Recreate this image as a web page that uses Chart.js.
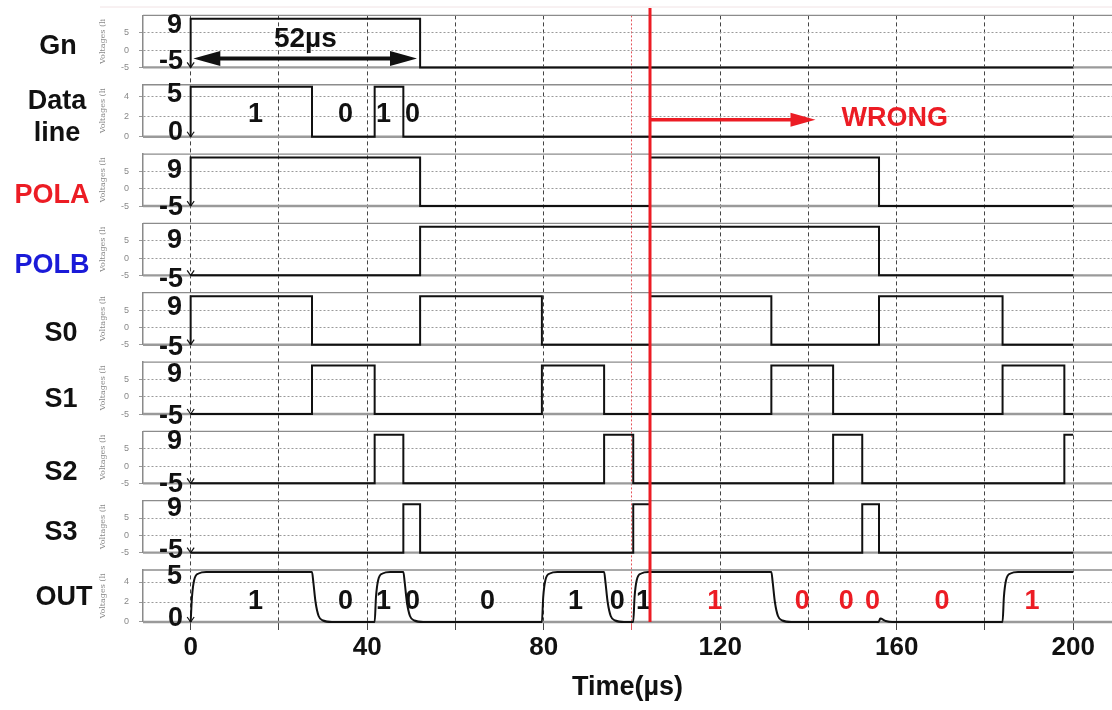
<!DOCTYPE html>
<html>
<head>
<meta charset="utf-8">
<script src="https://cdn.jsdelivr.net/npm/chart.js@4.4.1/dist/chart.umd.min.js"></script>
<style>
  html, body { margin: 0; padding: 0; background: #fff; }
  #wrap { width: 1112px; height: 710px; }
</style>
</head>
<body>
<div id="wrap"><canvas id="timing" width="1112" height="710"></canvas></div>
<script>
// timing diagram (µs, volts)
const xTicks = [0, 20, 40, 60, 80, 100, 120, 140, 160, 180, 200];
const xLabels = [0, 40, 80, 120, 160, 200];

const gnT = [0, 0, 52, 200];
const gnV = [-5, 9, -5, -5];
const dataT = [0, 0, 27.5, 41.7, 48.2, 200];
const dataV = [0, 5, 0, 5, 0, 0];
const polaT = [0, 0, 52, 104.1, 156, 200];
const polaV = [-5, 9, -5, 9, -5, -5];
const polbT = [0, 52, 156, 200];
const polbV = [-5, 9, -5, -5];
const s0T = [0, 0, 27.5, 52, 79.6, 104.1, 131.6, 156, 184, 200];
const s0V = [-5, 9, -5, 9, -5, 9, -5, 9, -5, -5];
const s1T = [0, 27.5, 41.7, 79.6, 93.7, 131.6, 145.6, 184, 198, 200];
const s1V = [-5, 9, -5, 9, -5, 9, -5, 9, -5, -5];
const s2T = [0, 41.7, 48.2, 93.7, 100.3, 145.6, 152.2, 198, 200];
const s2V = [-5, 9, -5, 9, -5, 9, -5, 9, 9];
const s3T = [0, 48.2, 52, 100.3, 104.1, 152.2, 156, 200];
const s3V = [-5, 9, -5, 9, -5, 9, -5, -5];

const outT = [0, 0.3, 0.8, 1.8, 3.5,
  27.5, 27.8, 28.3, 29.0, 30.0, 32.0,
  41.7, 42.0, 42.5, 43.5, 45.2,
  48.2, 48.5, 49.0, 49.7, 50.7, 52.7,
  79.6, 79.9, 80.4, 81.4, 83.1,
  93.7, 94.0, 94.5, 95.2, 96.2, 98.2,
  100.3, 100.6, 101.1, 102.1, 103.8,
  131.6, 131.9, 132.4, 133.1, 134.1, 136.1,
  155.9, 156.3, 157.5, 159.0,
  184.0, 184.3, 184.8, 185.8, 187.5, 200];
const outV = [0, 2.5, 4.2, 4.85, 5,
  5, 4.0, 2.0, 0.6, 0.15, 0,
  0, 2.5, 4.2, 4.85, 5,
  5, 4.0, 2.0, 0.6, 0.15, 0,
  0, 2.5, 4.2, 4.85, 5,
  5, 4.0, 2.0, 0.6, 0.15, 0,
  0, 2.5, 4.2, 4.85, 5,
  5, 4.0, 2.0, 0.6, 0.15, 0,
  0, 0.35, 0.1, 0,
  0, 2.5, 4.2, 4.85, 5, 5];

const dataBitX = [14.7, 35.1, 43.7, 50.3];
const dataBits = ['1', '0', '1', '0'];
const outBitX = [14.7, 35.1, 43.7, 50.3, 67.3, 87.2, 96.7, 102.6, 118.8, 138.6, 148.6, 154.5, 170.3, 190.7];
const outBits = ['1', '0', '1', '0', '0', '1', '0', '1', '1', '0', '0', '0', '0', '1'];
const wrongAt = 104.1;

const RED = '#ec1c24';
const FONT = "'Liberation Sans', Arial, sans-serif";

const panels = [
  { name: ['Gn'], color: '#111', t: gnT, v: gnV, min: -5, max: 10, ticks: [-5, 0, 5], hi: '9', lo: '-5' },
  { name: ['Data', 'line'], color: '#111', t: dataT, v: dataV, min: 0, max: 5.2, ticks: [0, 2, 4], hi: '5', lo: '0' },
  { name: ['POLA'], color: RED, t: polaT, v: polaV, min: -5, max: 10, ticks: [-5, 0, 5], hi: '9', lo: '-5' },
  { name: ['POLB'], color: '#1a1ad8', t: polbT, v: polbV, min: -5, max: 10, ticks: [-5, 0, 5], hi: '9', lo: '-5' },
  { name: ['S0'], color: '#111', t: s0T, v: s0V, min: -5, max: 10, ticks: [-5, 0, 5], hi: '9', lo: '-5' },
  { name: ['S1'], color: '#111', t: s1T, v: s1V, min: -5, max: 10, ticks: [-5, 0, 5], hi: '9', lo: '-5' },
  { name: ['S2'], color: '#111', t: s2T, v: s2V, min: -5, max: 10, ticks: [-5, 0, 5], hi: '9', lo: '-5' },
  { name: ['S3'], color: '#111', t: s3T, v: s3V, min: -5, max: 10, ticks: [-5, 0, 5], hi: '9', lo: '-5' },
  { name: ['OUT'], color: '#111', t: outT, v: outV, min: 0, max: 5.2, ticks: [0, 2, 4], hi: '5', lo: '0', smooth: true }
];

// label placement (pixel offsets inside each panel)
const nameX = [58, 57, 52, 52, 61, 61, 61, 61, 64];
const nameDy = [5.5, 7, 15, 16, 15, 12, 15, 6, 1.5];
const hiDy = [10, 10, 16, 17, 15, 13, 10, 8, 7];
const loDy = [-5.5, -4, 2, 4, 3, 3, 1, -2, -3];

const scales = {
  x: {
    type: 'linear', min: -10.8, max: 208.8,
    afterBuildTicks: s => { s.ticks = xTicks.map(v => ({ value: v })); },
    afterFit: s => { s.height = 88; },
    ticks: {
      autoSkip: false, maxRotation: 0, minRotation: 0, padding: 2, color: '#111',
      font: { family: FONT, size: 26, weight: 'bold' },
      callback: v => xLabels.includes(v) ? String(v) : ''
    },
    grid: {
      color: c => c.tick && c.tick.value === 100 ? '#e4545a' : '#444',
      lineWidth: 1, tickLength: 8
    },
    border: { display: false, dash: c => c.tick && c.tick.value === 100 ? [2, 2] : [4, 3] },
    title: { display: true, text: 'Time(µs)', color: '#111', padding: { top: 0, bottom: 6 },
      font: { family: FONT, size: 27, weight: 'bold' } }
  }
};

let w = 100;
panels.forEach((p, i) => {
  scales['y' + i] = {
    type: 'linear', position: 'left', stack: 'v', stackWeight: 3, weight: w--,
    min: p.min, max: p.max,
    afterBuildTicks: s => { s.ticks = p.ticks.map(v => ({ value: v })); },
    afterFit: s => { s.width = 48; },
    ticks: { color: '#888', padding: 10, font: { family: FONT, size: 9 } },
    grid: { color: '#9a9a9a', lineWidth: 1, tickLength: 4 },
    border: { display: true, color: '#8a8a8a', width: 1.5, dash: [2, 2] },
    title: { display: true, text: 'Voltages (li', color: '#888', padding: { top: 3, bottom: 0 },
      font: { family: "'DejaVu Serif', serif", size: 8 } }
  };
  if (i < panels.length - 1) {
    scales['g' + i] = {
      type: 'linear', position: 'left', stack: 'v', stackWeight: 1, weight: w--,
      afterFit: s => { s.width = 48; },
      ticks: { display: false }, grid: { display: false }, border: { display: false }
    };
  }
});

const datasets = panels.map((p, i) => ({
  data: p.t.map((t, k) => ({ x: t, y: p.v[k] })),
  yAxisID: 'y' + i,
  borderColor: '#111',
  borderWidth: 2,
  pointRadius: 0,
  stepped: p.smooth ? false : true,
  cubicInterpolationMode: p.smooth ? 'monotone' : 'default',
  tension: 0,
  clip: 4
}));

function seg(ctx, x1, y1, x2, y2) {
  ctx.beginPath(); ctx.moveTo(x1, y1); ctx.lineTo(x2, y2); ctx.stroke();
}
function head(ctx, x, y, dir, len, half) {
  ctx.beginPath();
  ctx.moveTo(x, y);
  ctx.lineTo(x - dir * len, y - half);
  ctx.lineTo(x - dir * len, y + half);
  ctx.closePath();
  ctx.fill();
}

const overlay = {
  id: 'overlay',
  beforeDatasetsDraw(chart) {
    const { ctx, chartArea } = chart;
    ctx.save();
    panels.forEach((p, i) => {
      const s = chart.scales['y' + i];
      ctx.strokeStyle = '#8c8c8c'; ctx.lineWidth = 1.3;
      seg(ctx, chartArea.left, s.top, chartArea.right, s.top);
      ctx.strokeStyle = '#9a9a9a'; ctx.lineWidth = 2.4;
      seg(ctx, chartArea.left, s.bottom, chartArea.right, s.bottom);
    });
    ctx.strokeStyle = '#f1e2e4'; ctx.lineWidth = 1;
    seg(ctx, 100, 7, chart.width, 7);
    ctx.restore();
  },
  afterDatasetsDraw(chart) {
    const { ctx, chartArea } = chart;
    const x = chart.scales.x;
    ctx.save();

    // start markers
    ctx.strokeStyle = '#111'; ctx.lineWidth = 1.2;
    panels.forEach((p, i) => {
      const el = chart.getDatasetMeta(i).data[0];
      ctx.beginPath();
      ctx.moveTo(el.x - 3.5, el.y - 5); ctx.lineTo(el.x, el.y); ctx.lineTo(el.x + 3.5, el.y - 5);
      ctx.stroke();
    });

    // panel names and level labels
    ctx.textBaseline = 'middle';
    panels.forEach((p, i) => {
      const s = chart.scales['y' + i];
      const mid = (s.top + s.bottom) / 2 + nameDy[i];
      ctx.fillStyle = p.color;
      ctx.textAlign = 'center';
      ctx.font = 'bold 27px ' + FONT;
      p.name.forEach((n, k) => ctx.fillText(n, nameX[i], mid + (k - (p.name.length - 1) / 2) * 32));
      ctx.fillStyle = '#111';
      ctx.textAlign = 'right';
      ctx.fillText(p.hi, 182, s.top + hiDy[i]);
      ctx.fillText(p.lo, 183, s.bottom + loDy[i]);
    });

    // bit labels
    ctx.textAlign = 'center';
    ctx.font = 'bold 27px ' + FONT;
    const yd = chart.scales.y1, yo = chart.scales.y8;
    dataBitX.forEach((t, k) => {
      ctx.fillStyle = '#111';
      ctx.fillText(dataBits[k], x.getPixelForValue(t), yd.getPixelForValue(2.2));
    });
    outBitX.forEach((t, k) => {
      ctx.fillStyle = t > wrongAt ? RED : '#111';
      ctx.fillText(outBits[k], x.getPixelForValue(t), yo.getPixelForValue(2));
    });

    // 52µs double arrow
    const yg = chart.scales.y0;
    const ay = yg.getPixelForValue(-2.4);
    const ax1 = x.getPixelForValue(0.6), ax2 = x.getPixelForValue(51.3);
    ctx.strokeStyle = '#111'; ctx.fillStyle = '#111'; ctx.lineWidth = 4;
    seg(ctx, ax1 + 20, ay, ax2 - 20, ay);
    head(ctx, ax1, ay, -1, 27, 7.5);
    head(ctx, ax2, ay, 1, 27, 7.5);
    ctx.font = 'bold 28px ' + FONT;
    ctx.fillText('52µs', x.getPixelForValue(26), yg.getPixelForValue(3.2));

    // wrong marker
    const rx = x.getPixelForValue(wrongAt);
    ctx.strokeStyle = RED; ctx.fillStyle = RED;
    ctx.lineWidth = 3;
    seg(ctx, rx, 8, rx, chartArea.bottom);
    const wy = yd.getPixelForValue(1.7);
    const wx2 = x.getPixelForValue(141.6);
    ctx.lineWidth = 3.5;
    seg(ctx, rx, wy, wx2 - 18, wy);
    head(ctx, wx2, wy, 1, 25, 7);
    ctx.textAlign = 'left';
    ctx.font = 'bold 27px ' + FONT;
    ctx.fillText('WRONG', x.getPixelForValue(147.5), yd.getPixelForValue(1.85));
    ctx.restore();
  }
};

new Chart(document.getElementById('timing'), {
  type: 'line',
  data: { datasets },
  options: {
    responsive: false,
    animation: false,
    layout: { padding: { top: 15, left: 95, right: 0, bottom: 0 } },
    plugins: { legend: { display: false }, tooltip: { enabled: false } },
    scales
  },
  plugins: [overlay]
});
</script>
</body>
</html>
